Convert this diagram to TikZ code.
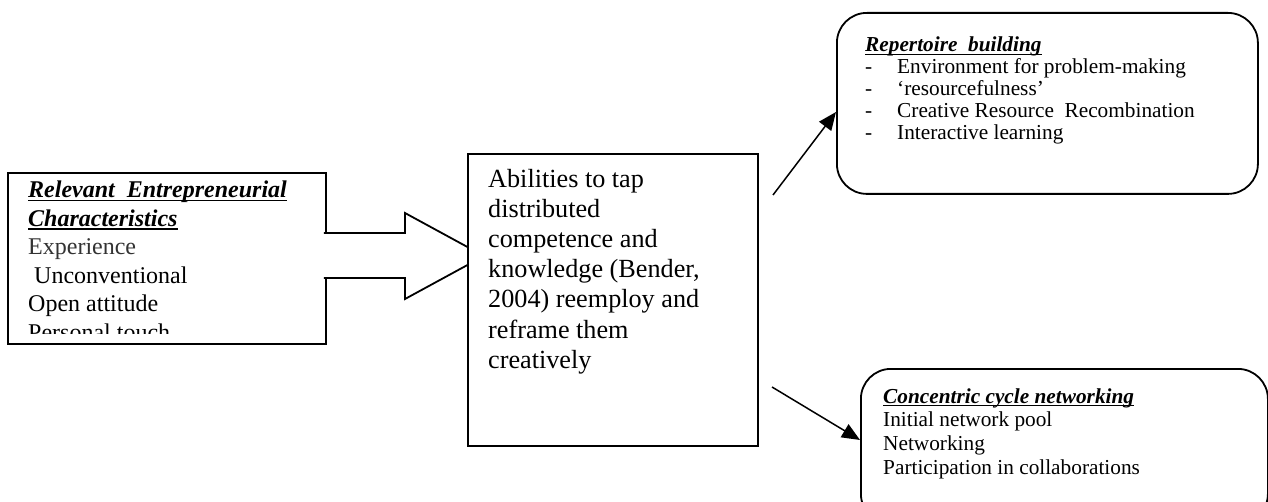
\documentclass[tikz,border=0pt]{standalone}
\usepackage{fontspec}
\setmainfont{Liberation Serif}
\usetikzlibrary{arrows.meta}

% bold italic heading with a rule drawn just under the baseline
\newsavebox\headsave
\newcommand\headul[1]{\sbox\headsave{\bfseries\itshape #1}%
  \rlap{\rule[-3.2pt]{\wd\headsave}{1.5pt}}\usebox\headsave}

\begin{document}
\begin{tikzpicture}[x=1pt,y=-1pt,
  frame/.style={draw, line width=1.8pt, fill=white, inner sep=0pt, anchor=north west},
  roundframe/.style={frame, rounded corners=30pt},
  blockarrow/.style={draw, line width=1.8pt, fill=white, line join=miter},
  conn/.style={line width=1.5pt, -{Triangle[length=18pt,width=15pt]}},
  txtL/.style={anchor=base west, inner sep=0pt, font=\fontsize{24}{28}\selectfont},
  txtC/.style={anchor=base west, inner sep=0pt, font=\fontsize{26.2}{30}\selectfont},
  txtR/.style={anchor=base west, inner sep=0pt, font=\fontsize{21.3}{22}\selectfont}]

\useasboundingbox (0,0) rectangle (1268,502);
\clip (0,0) rectangle (1268,502);

% left box: entrepreneurial characteristics
\node[frame, minimum width=318pt, minimum height=171pt] (chars) at (7,172) {};
\node[txtL] (ch1) at (28,198) {\headul{Relevant\ \ Entrepreneurial}};
\node[txtL] (ch2) at (28,226.4) {\headul{Characteristics}};
\node[txtL, text=black!80] (ch3) at (28,254.8) {Experience};
\node[txtL] (ch4) at (28,283.2) {\ Unconventional};
\node[txtL] (ch5) at (28,311.6) {Open attitude};
\begin{scope}
  \clip (7,172) rectangle (325,333);
  \node[txtL] (ch6) at (28,341) {Personal touch};
\end{scope}

% block arrow into the central box; its white body hides the box edge
\coordinate (tip) at (484,256);
\fill[white] ([xshift=-3pt]chars.east |- 0,234) rectangle (330,277);
\draw[blockarrow] ([xshift=-3pt]chars.east |- 0,233) -- (405,233) -- (405,213)
  -- (tip) -- (405,299) -- (405,278) -- ([xshift=-3pt]chars.east |- 0,278);

% central box
\node[frame, minimum width=290pt, minimum height=292pt] (abil) at (467,153) {};
\foreach \t [count=\i] in {Abilities to tap, distributed, competence and,
    {knowledge (Bender,}, {2004) reemploy and}, reframe them, creatively}
  \node[txtC] (ab\i) at (488,{188+30*(\i-1)}) {\t};

% upper right box: repertoire building
\node[roundframe, minimum width=421pt, minimum height=181pt] (rep) at (836,12) {};
\node[txtR] (rp0) at (865,52) {\headul{Repertoire\ \ building}};
\foreach \t [count=\i] in {Environment for problem-making, ‘resourcefulness’,
    Creative Resource\ \ Recombination, Interactive learning} {
  \node[txtR] (rd\i) at (865,{52+22*\i}) {-};
  \node[txtR] (rp\i) at (897,{52+22*\i}) {\t};
}

% lower right box: concentric cycle networking
\node[roundframe, minimum width=407pt, minimum height=155pt] (net) at (860,368) {};
\node[txtR] (nt0) at (883,403) {\headul{Concentric cycle networking}};
\foreach \t [count=\i] in {Initial network pool, Networking, Participation in collaborations}
  \node[txtR] (nt\i) at (883,{403+23.7*\i}) {\t};

% connectors from the central box
\coordinate (s1) at (773,195);
\coordinate (s2) at (772,387);
\draw[conn] (s1) -- (rep.west |- 0,112);
\draw[conn] (s2) -- (net.west |- 0,440);
\end{tikzpicture}
\end{document}
